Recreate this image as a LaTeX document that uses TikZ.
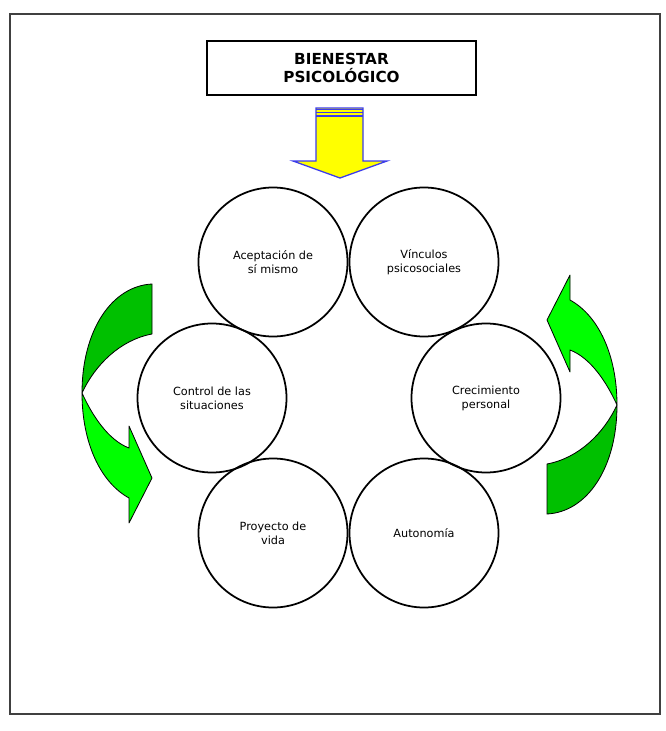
\documentclass[tikz,border=0pt]{standalone}
\usepackage{fontspec}
\setmainfont{DejaVu Sans}
\usetikzlibrary{positioning}

\begin{document}
\begin{tikzpicture}[x=0.03cm, y=-0.03cm]
  % colors close to the figure
  \definecolor{arrowblue}{RGB}{60,60,235}
  \definecolor{arrowyellow}{RGB}{255,255,0}
  \definecolor{darkgreen}{RGB}{0,192,0}
  \definecolor{lightgreen}{RGB}{0,255,0}

  \tikzset{
    bubble/.style={circle, draw, line width=1.5pt, minimum size=4.47cm,
                   align=center, font=\fontsize{9.6}{12}\selectfont},
    titlebox/.style={draw, line width=1.8pt, minimum width=8.05cm,
                     minimum height=1.6cm, align=center,
                     font=\fontsize{13}{15.5}\selectfont\bfseries},
    greenpiece/.style={draw=black, line width=0.7pt, line join=round}
  }

  % page and outer frame
  \useasboundingbox (0,0) rectangle (665,731);
  \draw[black!75, line width=1pt] (10,14) rectangle (660,714);

  % title
  \node[titlebox] (title) at (341.5,68) {BIENESTAR\\PSICOLÓGICO};

  % yellow arrow down
  \draw[arrowblue, fill=arrowyellow, line width=1.1pt, line join=miter]
    (316,108) -- (363,108) -- (363,161) -- (387,161) -- (340,178)
    -- (293,161) -- (316,161) -- cycle;
  \draw[arrowblue, line width=1.6pt] (316,109.5) -- (363,109.5);
  \draw[arrowblue, line width=0.8pt] (316,112.5) -- (363,112.5);
  \draw[arrowblue, line width=1.4pt] (316,116.2) -- (363,116.2);

  % the six circles
  \node[bubble] (acept) at (273,262) {Aceptación de\\sí mismo};
  \node[bubble] (vinc)  at (424,262) {Vínculos\\psicosociales};
  \node[bubble] (ctrl)  at (212,398) {Control de las\\situaciones};
  \node[bubble] (crec)  at (486,398) {Crecimiento\\personal};
  \node[bubble] (proy)  at (273,533) {Proyecto de\\vida};
  \node[bubble] (auto)  at (424,533) {Autonomía};

  % curved green arrow (left one, then turned round for the right)
  \def\greenarrow{%
    \filldraw[greenpiece, fill=darkgreen]
      (152,284) .. controls (112,286) and (82,330) .. (82,393)
      .. controls (95,365) and (120,340) .. (152,334) -- cycle;
    \filldraw[greenpiece, fill=lightgreen]
      (82,393) .. controls (82,442) and (100,482) .. (129,498)
      -- (129,523) -- (152,478) -- (129,426) -- (129,448)
      .. controls (108,440) and (92,415) .. (82,393) -- cycle;
  }
  \greenarrow
  \begin{scope}[rotate around={180:(349.5,399)}]
    \greenarrow
  \end{scope}
\end{tikzpicture}
\end{document}
